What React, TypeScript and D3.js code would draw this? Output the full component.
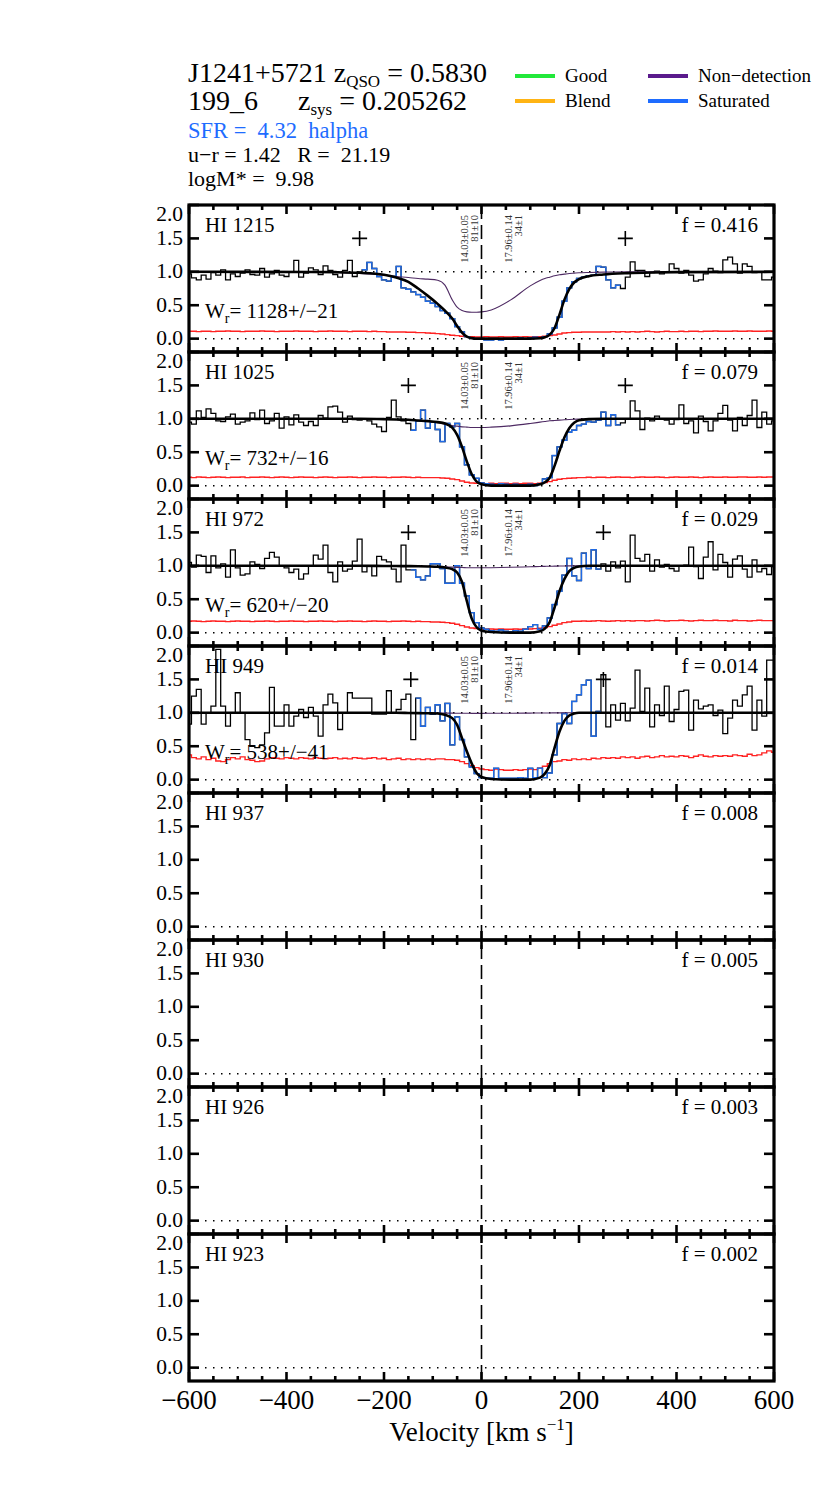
import React from "react";
import * as d3 from "d3";

// ---------- data ----------
const V_START = -600;
const V_STEP = 10;

const LINE_NAMES = ["HI 1215", "HI 1025", "HI 972", "HI 949", "HI 937", "HI 930", "HI 926", "HI 923"];
const F_VALUES = ["0.416", "0.079", "0.029", "0.014", "0.008", "0.005", "0.003", "0.002"];
const WR_VALUES = ["1128+/−21", "732+/−16", "620+/−20", "538+/−41"];
const LIMITS = [[-250, 295], [-150, 295], [-150, 250], [-145, 250]];
const PLUS_LEVEL = 1.5;
const COMP_VEL = [-8, 84];
const COMP_LABELS = [["14.03±0.05", "81±10"], ["17.96±0.14", "34±1"]];

const X_TICKS = [-600, -400, -200, 0, 200, 400, 600];
const X_MINOR = [-600, -550, -500, -450, -400, -350, -300, -250, -200, -150, -100, -50, 0, 50, 100, 150, 200, 250, 300, 350, 400, 450, 500, 550, 600];
const Y_TICKS = [0, 0.5, 1.0, 1.5, 2.0];

// HI 1215 (Lya)
const FLUX_1215 = [
  0.97, 0.91, 0.88, 0.95, 0.89, 0.99, 0.95, 1.03, 0.88, 0.97,
  0.93, 0.98, 1.03, 0.96, 0.95, 1.05, 0.92, 0.97, 1.02, 0.95,
  0.93, 1.00, 1.17, 0.92, 0.98, 1.06, 1.03, 0.96, 1.09, 1.02,
  0.96, 0.92, 1.02, 1.17, 0.93, 1.00, 1.03, 1.14, 1.05, 0.93,
  0.88, 0.86, 0.93, 1.08, 0.76, 0.74, 0.70, 0.66, 0.62, 0.56,
  0.53, 0.48, 0.42, 0.38, 0.30, 0.18, 0.10, 0.03, 0.01, -0.01,
  -0.01, -0.02, -0.02, -0.01, -0.02, 0.00, -0.01, 0.00, 0.01, 0.00,
  0.01, 0.02, 0.01, 0.03, 0.07, 0.16, 0.32, 0.56, 0.76, 0.85,
  0.90, 0.92, 0.94, 0.95, 1.08, 1.07, 0.88, 0.76, 0.80, 0.75,
  0.92, 1.15, 1.02, 1.02, 0.93, 0.99, 1.01, 0.97, 1.00, 1.12,
  1.05, 0.98, 1.02, 0.95, 0.86, 0.88, 0.97, 1.05, 1.01, 0.99,
  1.18, 1.22, 1.12, 0.98, 1.12, 1.08, 0.99, 1.00, 0.88, 0.88,
  0.92,
];
const ERR_1215 = [
  0.11, 0.11, 0.105, 0.11, 0.11, 0.105, 0.11, 0.11, 0.115, 0.11,
  0.11, 0.105, 0.11, 0.11, 0.11, 0.115, 0.11, 0.11, 0.105, 0.11,
  0.11, 0.11, 0.115, 0.11, 0.11, 0.11, 0.105, 0.11, 0.11, 0.115,
  0.11, 0.11, 0.11, 0.105, 0.11, 0.11, 0.11, 0.105, 0.11, 0.105,
  0.105, 0.10, 0.10, 0.10, 0.10, 0.095, 0.095, 0.09, 0.09, 0.085,
  0.08, 0.075, 0.07, 0.06, 0.05, 0.045, 0.035, 0.03, 0.03, 0.025,
  0.025, 0.03, 0.025, 0.025, 0.03, 0.025, 0.025, 0.03, 0.025, 0.03,
  0.025, 0.03, 0.03, 0.035, 0.045, 0.055, 0.07, 0.085, 0.09, 0.095,
  0.095, 0.10, 0.10, 0.10, 0.10, 0.10, 0.10, 0.105, 0.10, 0.105,
  0.10, 0.105, 0.10, 0.105, 0.11, 0.105, 0.10, 0.105, 0.11, 0.105,
  0.105, 0.11, 0.105, 0.11, 0.11, 0.105, 0.11, 0.11, 0.115, 0.11,
  0.11, 0.11, 0.115, 0.11, 0.11, 0.115, 0.11, 0.11, 0.11, 0.115,
  0.11,
];

// HI 1025 (Lyb)
const FLUX_1025 = [
  0.95, 0.92, 1.12, 1.02, 1.15, 1.08, 0.97, 0.96, 1.03, 1.07,
  0.92, 0.95, 0.97, 1.09, 0.99, 1.13, 0.93, 0.97, 1.08, 0.86,
  1.03, 0.91, 1.06, 0.95, 0.90, 0.96, 0.90, 1.05, 1.01, 1.18,
  1.19, 1.10, 0.95, 1.04, 0.99, 0.98, 1.00, 0.97, 0.92, 0.88,
  0.81, 1.02, 1.28, 1.03, 0.97, 0.93, 0.83, 0.97, 1.13, 0.86,
  0.95, 0.84, 0.66, 0.93, 0.88, 0.93, 0.58, 0.31, 0.16, 0.11,
  0.04, 0.03, 0.02, 0.01, 0.03, 0.02, 0.01, 0.02, 0.01, 0.01,
  0.02, 0.00, 0.03, 0.10, 0.12, 0.45, 0.58, 0.68, 0.80, 0.83,
  0.90, 0.92, 0.96, 0.95, 0.98, 1.10, 0.90, 1.06, 0.91, 0.94,
  1.00, 1.27, 1.12, 0.84, 1.01, 0.97, 1.04, 1.00, 0.98, 0.92,
  0.99, 1.21, 0.93, 0.97, 0.79, 1.04, 0.96, 0.82, 0.97, 1.08,
  1.20, 0.98, 0.82, 1.02, 0.90, 1.05, 1.28, 0.87, 1.10, 0.92,
  0.97,
];
const ERR_1025 = [
  0.125, 0.12, 0.13, 0.125, 0.12, 0.125, 0.13, 0.125, 0.12, 0.125,
  0.125, 0.13, 0.12, 0.125, 0.125, 0.13, 0.125, 0.12, 0.125, 0.13,
  0.125, 0.12, 0.125, 0.13, 0.125, 0.125, 0.12, 0.125, 0.13, 0.125,
  0.12, 0.125, 0.125, 0.13, 0.125, 0.12, 0.125, 0.125, 0.13, 0.125,
  0.125, 0.12, 0.125, 0.125, 0.13, 0.125, 0.12, 0.125, 0.12, 0.12,
  0.12, 0.12, 0.115, 0.11, 0.10, 0.09, 0.07, 0.05, 0.04, 0.035,
  0.035, 0.03, 0.035, 0.03, 0.035, 0.035, 0.03, 0.035, 0.03, 0.035,
  0.035, 0.03, 0.035, 0.045, 0.06, 0.08, 0.095, 0.105, 0.11, 0.115,
  0.12, 0.12, 0.125, 0.12, 0.125, 0.125, 0.12, 0.125, 0.13, 0.125,
  0.125, 0.12, 0.125, 0.13, 0.125, 0.125, 0.13, 0.125, 0.12, 0.125,
  0.13, 0.125, 0.125, 0.13, 0.125, 0.12, 0.125, 0.13, 0.125, 0.125,
  0.13, 0.125, 0.125, 0.13, 0.13, 0.125, 0.125, 0.13, 0.125, 0.13,
  0.13,
];

// HI 972 (Lyg)
const FLUX_972 = [
  1.05, 0.98, 1.16, 1.14, 0.90, 1.15, 0.97, 1.03, 0.83, 1.24,
  0.97, 0.86, 0.88, 1.06, 1.02, 0.96, 1.11, 1.20, 1.13, 1.00,
  0.97, 0.90, 0.95, 0.80, 0.88, 1.00, 1.16, 1.10, 1.31, 0.90,
  0.76, 1.06, 0.92, 0.95, 1.07, 1.40, 0.91, 1.00, 0.85, 1.14,
  1.09, 1.06, 0.95, 0.76, 1.31, 0.94, 0.94, 0.83, 0.79, 0.85,
  1.03, 1.03, 0.96, 0.74, 0.74, 1.00, 0.74, 0.55, 0.30, 0.15,
  0.07, 0.05, 0.03, 0.02, 0.04, 0.02, 0.01, 0.03, 0.02, 0.05,
  0.09, 0.12, 0.05, 0.10, 0.22, 0.42, 0.62, 0.86, 1.11, 0.85,
  0.78, 1.19, 0.96, 1.24, 0.95, 1.03, 0.92, 1.06, 0.97, 1.07,
  0.76, 1.46, 1.11, 1.07, 1.17, 0.92, 1.09, 0.98, 1.02, 0.96,
  0.92, 1.00, 1.01, 1.28, 0.99, 0.81, 1.13, 1.36, 0.94, 1.17,
  1.05, 0.83, 1.10, 1.15, 0.95, 0.83, 1.09, 0.91, 0.96, 0.87,
  0.99,
];
const ERR_972 = [
  0.17, 0.175, 0.17, 0.165, 0.17, 0.175, 0.17, 0.17, 0.165, 0.17,
  0.175, 0.17, 0.17, 0.165, 0.17, 0.17, 0.175, 0.17, 0.165, 0.17,
  0.17, 0.175, 0.17, 0.17, 0.165, 0.17, 0.17, 0.175, 0.17, 0.17,
  0.165, 0.17, 0.17, 0.175, 0.17, 0.17, 0.165, 0.17, 0.175, 0.17,
  0.17, 0.165, 0.17, 0.17, 0.175, 0.17, 0.165, 0.17, 0.165, 0.165,
  0.16, 0.16, 0.155, 0.15, 0.14, 0.125, 0.105, 0.085, 0.07, 0.06,
  0.055, 0.05, 0.055, 0.05, 0.055, 0.05, 0.05, 0.055, 0.05, 0.055,
  0.055, 0.06, 0.065, 0.075, 0.09, 0.11, 0.13, 0.15, 0.16, 0.17,
  0.17, 0.175, 0.17, 0.175, 0.18, 0.175, 0.17, 0.175, 0.18, 0.175,
  0.18, 0.175, 0.18, 0.18, 0.175, 0.18, 0.185, 0.18, 0.175, 0.18,
  0.18, 0.185, 0.18, 0.175, 0.18, 0.185, 0.18, 0.18, 0.185, 0.18,
  0.18, 0.175, 0.185, 0.18, 0.18, 0.175, 0.18, 0.185, 0.18, 0.18,
  0.18,
];

// HI 949 (Lyd)
const FLUX_949 = [
  0.83, 1.25, 1.35, 0.83, 1.00, 1.10, 1.95, 1.10, 0.80, 1.00,
  1.30, 1.00, 0.60, 0.50, 0.48, 0.52, 0.70, 1.38, 0.80, 0.80,
  1.12, 0.80, 0.95, 1.05, 0.93, 1.08, 0.95, 0.65, 1.12, 1.28,
  1.15, 0.75, 1.00, 1.30, 1.22, 1.22, 1.22, 1.22, 0.98, 0.98,
  0.98, 1.33, 1.00, 1.05, 1.20, 1.28, 0.60, 1.22, 0.80, 1.08,
  0.98, 1.12, 0.88, 1.14, 0.52, 0.94, 0.60, 0.34, 0.19, 0.09,
  0.03, 0.02, 0.02, 0.17, 0.02, 0.02, 0.02, 0.02, 0.03, 0.02,
  0.17, 0.03, 0.17, 0.03, 0.10, 0.37, 0.84, 0.99, 0.84, 1.17,
  1.27, 1.42, 1.49, 0.65, 1.02, 1.57, 0.79, 1.12, 0.89, 1.14,
  0.88, 1.07, 1.64, 1.02, 1.37, 0.79, 1.12, 0.96, 1.40, 0.87,
  1.05, 1.32, 1.34, 0.74, 1.19, 1.06, 1.10, 1.12, 0.96, 1.04,
  0.69, 0.92, 1.19, 1.10, 1.27, 1.40, 0.74, 1.19, 0.95, 1.79,
  1.79,
];
const ERR_949 = [
  0.37, 0.33, 0.31, 0.34, 0.30, 0.32, 0.28, 0.27, 0.30, 0.33,
  0.31, 0.34, 0.30, 0.29, 0.27, 0.28, 0.31, 0.33, 0.32, 0.31,
  0.33, 0.32, 0.31, 0.33, 0.32, 0.31, 0.33, 0.32, 0.31, 0.32,
  0.33, 0.31, 0.32, 0.31, 0.33, 0.32, 0.31, 0.32, 0.33, 0.31,
  0.32, 0.30, 0.31, 0.32, 0.30, 0.31, 0.30, 0.31, 0.30, 0.31,
  0.30, 0.31, 0.31, 0.30, 0.30, 0.29, 0.27, 0.24, 0.21, 0.18,
  0.16, 0.15, 0.14, 0.16, 0.15, 0.14, 0.14, 0.15, 0.14, 0.15,
  0.16, 0.15, 0.17, 0.20, 0.24, 0.27, 0.28, 0.30, 0.29, 0.31,
  0.30, 0.31, 0.30, 0.32, 0.31, 0.33, 0.32, 0.33, 0.32, 0.34,
  0.33, 0.34, 0.32, 0.34, 0.35, 0.33, 0.34, 0.36, 0.34, 0.35,
  0.34, 0.36, 0.35, 0.33, 0.35, 0.37, 0.35, 0.34, 0.36, 0.35,
  0.36, 0.35, 0.37, 0.36, 0.35, 0.38, 0.36, 0.37, 0.40, 0.43,
  0.41,
];

// Voigt-profile fit (black) and non-detection model (purple), sampled at MODEL_V
const MODEL_V = [-600, -350, -300, -250, -200, -175, -150, -130, -110, -90, -75, -60, -50, -40, -30, -20, -10, 0, 20, 60, 100, 120, 130, 140, 150, 160, 170, 180, 190, 200, 220, 250, 300, 350, 400, 600];
const MODEL_1215 = [1.0, 0.998, 0.995, 0.985, 0.955, 0.915, 0.85, 0.75, 0.64, 0.52, 0.42, 0.30, 0.19, 0.09, 0.03, 0.008, 0.0, 0.0, 0.0, 0.0, 0.0, 0.005, 0.02, 0.06, 0.16, 0.36, 0.58, 0.74, 0.84, 0.89, 0.935, 0.96, 0.98, 0.99, 0.995, 1.0];
const NONDET_1215 = [1, 1, 0.99, 0.975, 0.95, 0.93, 0.915, 0.90, 0.89, 0.875, 0.80, 0.58, 0.47, 0.42, 0.40, 0.395, 0.395, 0.40, 0.43, 0.58, 0.79, 0.87, 0.90, 0.92, 0.94, 0.955, 0.965, 0.975, 0.98, 0.985, 0.99, 0.995, 1, 1, 1, 1];
const MODEL_1025 = [1, 1, 1, 1, 0.995, 0.99, 0.985, 0.975, 0.965, 0.95, 0.93, 0.87, 0.76, 0.58, 0.36, 0.17, 0.06, 0.02, 0.0, 0.0, 0.0, 0.02, 0.05, 0.12, 0.30, 0.52, 0.72, 0.86, 0.94, 0.98, 0.995, 1, 1, 1, 1, 1];
const NONDET_1025 = [1, 1, 1, 0.998, 0.995, 0.99, 0.985, 0.975, 0.96, 0.94, 0.92, 0.90, 0.89, 0.88, 0.875, 0.87, 0.87, 0.87, 0.875, 0.895, 0.93, 0.95, 0.96, 0.97, 0.975, 0.98, 0.985, 0.99, 0.993, 0.995, 0.998, 1, 1, 1, 1, 1];
const MODEL_972 = [1, 1, 1, 1, 0.998, 0.997, 0.995, 0.993, 0.99, 0.985, 0.975, 0.95, 0.90, 0.76, 0.47, 0.21, 0.08, 0.03, 0.01, 0.0, 0.0, 0.02, 0.06, 0.16, 0.38, 0.62, 0.80, 0.92, 0.97, 0.99, 1, 1, 1, 1, 1, 1];
const NONDET_972 = [1, 1, 1, 1, 1, 0.998, 0.997, 0.995, 0.993, 0.99, 0.985, 0.98, 0.977, 0.975, 0.972, 0.97, 0.97, 0.97, 0.972, 0.978, 0.986, 0.99, 0.992, 0.994, 0.995, 0.997, 0.998, 0.999, 1, 1, 1, 1, 1, 1, 1, 1];
const MODEL_949 = [1, 1, 1, 1, 1, 1, 0.998, 0.996, 0.993, 0.99, 0.97, 0.92, 0.82, 0.62, 0.42, 0.24, 0.10, 0.04, 0.01, 0.0, 0.0, 0.03, 0.09, 0.22, 0.48, 0.72, 0.88, 0.96, 0.99, 1, 1, 1, 1, 1, 1, 1];
const NONDET_949 = [1, 1, 1, 1, 1, 1, 1, 0.999, 0.998, 0.997, 0.996, 0.995, 0.994, 0.993, 0.993, 0.992, 0.992, 0.992, 0.993, 0.994, 0.996, 0.997, 0.998, 0.998, 0.999, 0.999, 1, 1, 1, 1, 1, 1, 1, 1, 1, 1];

const HEADER_NAME = "J1241+5721";
const Z_QSO = "0.5830";
const SYS_ID = "199_6";
const Z_SYS = "0.205262";
const SFR_TEXT = "SFR =  4.32  halpha";
const COLOR_TEXT = "u−r = 1.42   R =  21.19";
const MASS_TEXT = "logM* =  9.98";

const LEGEND = [
  { label: "Good", color: "#22e83a", col: 0, row: 0 },
  { label: "Blend", color: "#ffb414", col: 0, row: 1 },
  { label: "Non−detection", color: "#5a1a8c", col: 1, row: 0 },
  { label: "Saturated", color: "#1e6cff", col: 1, row: 1 },
];

const SPECTRA = [
  { flux: FLUX_1215, err: ERR_1215, model: MODEL_1215, nondet: NONDET_1215 },
  { flux: FLUX_1025, err: ERR_1025, model: MODEL_1025, nondet: NONDET_1025 },
  { flux: FLUX_972, err: ERR_972, model: MODEL_972, nondet: NONDET_972 },
  { flux: FLUX_949, err: ERR_949, model: MODEL_949, nondet: NONDET_949 },
];

// ---------- layout ----------
const W = 830;
const H = 1495;
const LEFT = 189;
const RIGHT = 774;
const TOP0 = 205;
const PH = 147;
const NP = LINE_NAMES.length;
const FONT = "'Liberation Serif', 'Times New Roman', Times, serif";
const BLUE = "#1f6ae6";
const RED = "#ff2222";
const PURPLE = "#4e2a63";

const x = d3.scaleLinear().domain([-600, 600]).range([LEFT, RIGHT]);

function stepPath(vals: number[], y: d3.ScaleLinear<number, number>, keep?: (v: number) => boolean) {
  let d = "";
  let started = false;
  vals.forEach((f, k) => {
    const v = V_START + k * V_STEP;
    if (keep && !keep(v)) return;
    const x0 = x(v - V_STEP / 2);
    const x1 = x(v + V_STEP / 2);
    const yy = y(f);
    if (!started) {
      d += `M${x0},${yy}`;
      started = true;
    } else {
      d += `V${yy}`;
    }
    d += `H${x1}`;
  });
  return d;
}

function Panel({ i }: { i: number }) {
  const top = TOP0 + i * PH;
  const bottom = top + PH;
  const y = d3.scaleLinear().domain([-0.2, 2.0]).range([bottom, top]);
  const spec = SPECTRA[i];
  const smooth = d3
    .line<[number, number]>()
    .x((d) => x(d[0]))
    .y((d) => y(d[1]))
    .curve(d3.curveMonotoneX);
  const clipId = `clip${i}`;
  const lim = LIMITS[i];

  return (
    <g>
      <defs>
        <clipPath id={clipId}>
          <rect x={LEFT} y={top} width={RIGHT - LEFT} height={PH} />
        </clipPath>
      </defs>
      {/* reference lines */}
      <line x1={LEFT} x2={RIGHT} y1={y(0)} y2={y(0)} stroke="#000" strokeWidth={1.5} strokeDasharray="1.5 6.5" />
      {spec && (
        <line x1={LEFT} x2={RIGHT} y1={y(1)} y2={y(1)} stroke="#000" strokeWidth={1.5} strokeDasharray="1.5 6.5" />
      )}
      {spec && (
        <g clipPath={`url(#${clipId})`} fill="none">
          <path d={stepPath(spec.err, y)} stroke={RED} strokeWidth={1.4} />
          <path d={stepPath(spec.flux, y)} stroke="#000" strokeWidth={1.3} />
          <path
            d={stepPath(spec.flux, y, (v) => v > lim[0] + 5 && v < lim[1] - 5)}
            stroke={BLUE}
            strokeWidth={1.4}
          />
          <path
            d={smooth(MODEL_V.map((v, k) => [v, spec.nondet[k]] as [number, number])) || ""}
            stroke={PURPLE}
            strokeWidth={1.1}
          />
          <path
            d={smooth(MODEL_V.map((v, k) => [v, spec.model[k]] as [number, number])) || ""}
            stroke="#000"
            strokeWidth={2.6}
          />
        </g>
      )}
      {/* integration limit markers */}
      {spec &&
        lim.map((v, k) => (
          <path
            key={k}
            d={`M${x(v) - 7.5},${y(PLUS_LEVEL)}H${x(v) + 7.5}M${x(v)},${y(PLUS_LEVEL) - 7.5}V${y(PLUS_LEVEL) + 7.5}`}
            stroke="#000"
            strokeWidth={1.6}
            fill="none"
          />
        ))}
      {/* component annotations */}
      {spec &&
        COMP_VEL.map((v, c) => (
          <g key={c} fontSize={10.5} fill="#333">
            <text transform={`translate(${x(v) - 10},${top + 10}) rotate(-90)`} textAnchor="end">
              {COMP_LABELS[c][0]}
            </text>
            <text transform={`translate(${x(v)},${top + 10}) rotate(-90)`} textAnchor="end">
              {COMP_LABELS[c][1]}
            </text>
          </g>
        ))}
      {/* frame */}
      <rect x={LEFT} y={top} width={RIGHT - LEFT} height={PH} fill="none" stroke="#000" strokeWidth={3.2} />
      {X_MINOR.map((t) => {
        const len = t % 200 === 0 ? 9 : 5;
        return (
          <g key={t} stroke="#000" strokeWidth={2.6}>
            <line x1={x(t)} x2={x(t)} y1={top} y2={top + len} />
            <line x1={x(t)} x2={x(t)} y1={bottom} y2={bottom - len} />
          </g>
        );
      })}
      {Y_TICKS.map((t) => (
        <g key={t} stroke="#000" strokeWidth={2.6}>
          <line x1={LEFT} x2={LEFT + 10} y1={y(t)} y2={y(t)} />
          <line x1={RIGHT} x2={RIGHT - 10} y1={y(t)} y2={y(t)} />
        </g>
      ))}
      {Y_TICKS.map((t) => (
        <text key={t} x={183} y={t === 2 ? top + 16 : y(t) + 6.5} textAnchor="end" fontSize={21.5}>
          {t.toFixed(1)}
        </text>
      ))}
      {/* labels */}
      <text x={205} y={top + 27} fontSize={21}>
        {LINE_NAMES[i]}
      </text>
      <text x={758} y={top + 27} fontSize={21} textAnchor="end">
        f = {F_VALUES[i]}
      </text>
      {spec && (
        <text x={205} y={top + 113} fontSize={21}>
          W<tspan fontSize={14} dy={5}>r</tspan>
          <tspan dy={-5}>= {WR_VALUES[i]}</tspan>
        </text>
      )}
    </g>
  );
}

export default function App() {
  const bottom = TOP0 + NP * PH;
  return (
    <svg
      width={W}
      height={H}
      viewBox={`0 0 ${W} ${H}`}
      style={{ position: "absolute", left: 0, top: 0, background: "#fff" }}
      fontFamily={FONT}
    >
      <rect x={0} y={0} width={W} height={H} fill="#fff" />
      {/* header */}
      <text x={188} y={82} fontSize={28}>
        {HEADER_NAME} z<tspan fontSize={17} dy={5}>QSO</tspan>
        <tspan dy={-5}> = {Z_QSO}</tspan>
      </text>
      <text x={188} y={110} fontSize={28}>
        {SYS_ID}
      </text>
      <text x={298} y={110} fontSize={28}>
        z<tspan fontSize={17} dy={5}>sys</tspan>
        <tspan dy={-5}> = {Z_SYS}</tspan>
      </text>
      <text x={188} y={138} fontSize={22.5} fill={LEGEND[3].color} style={{ whiteSpace: "pre" }}>
        {SFR_TEXT}
      </text>
      <text x={188} y={162} fontSize={22} style={{ whiteSpace: "pre" }}>
        {COLOR_TEXT}
      </text>
      <text x={188} y={186} fontSize={22} style={{ whiteSpace: "pre" }}>
        {MASS_TEXT}
      </text>
      {/* legend */}
      {LEGEND.map((l) => {
        const lx = 515 + l.col * 133;
        const ly = 76 + l.row * 25;
        return (
          <g key={l.label}>
            <line x1={lx} x2={lx + 40} y1={ly} y2={ly} stroke={l.color} strokeWidth={4} />
            <text x={lx + 50} y={ly + 6} fontSize={19}>
              {l.label}
            </text>
          </g>
        );
      })}
      {LINE_NAMES.map((_, i) => (
        <Panel key={i} i={i} />
      ))}
      {/* zero-velocity line */}
      <line x1={x(0)} x2={x(0)} y1={TOP0} y2={bottom} stroke="#000" strokeWidth={1.6} strokeDasharray="14 6" />
      {/* bottom axis labels */}
      {X_TICKS.map((t) => (
        <text key={t} x={x(t)} y={bottom + 28} fontSize={27} textAnchor="middle">
          {t < 0 ? `−${Math.abs(t)}` : `${t}`}
        </text>
      ))}
      <text x={x(0)} y={bottom + 60} fontSize={27} textAnchor="middle">
        Velocity [km s<tspan fontSize={17} dy={-11}>−1</tspan>
        <tspan dy={11}>]</tspan>
      </text>
    </svg>
  );
}
